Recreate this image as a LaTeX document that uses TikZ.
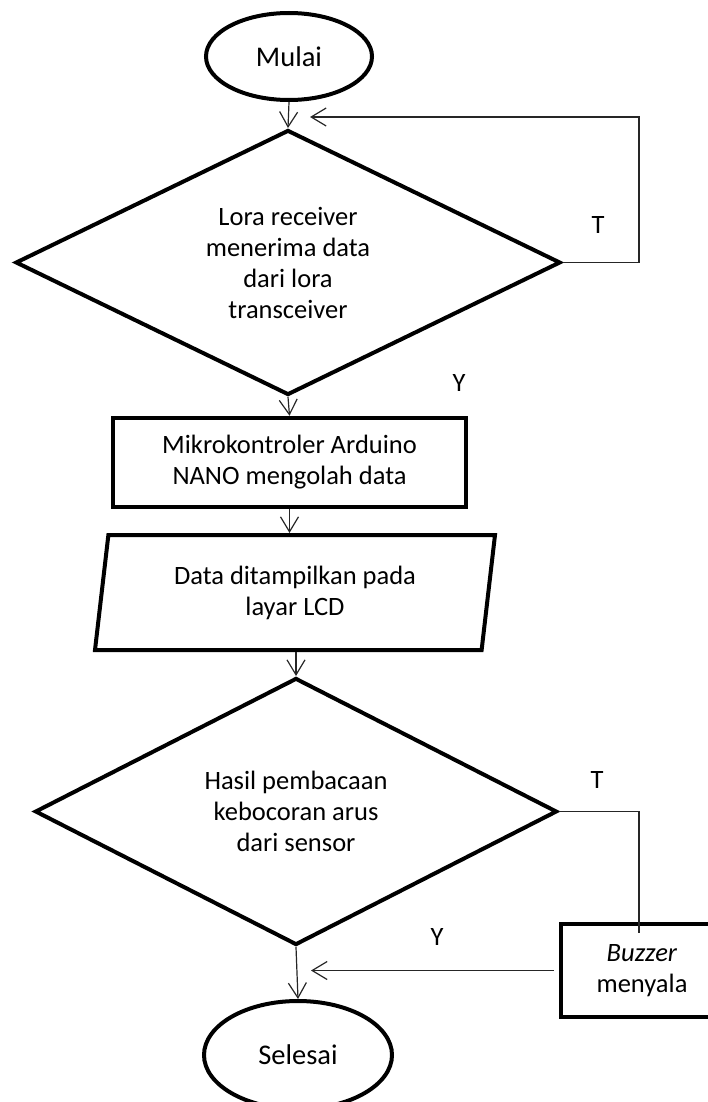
\documentclass[tikz,border=0pt]{standalone}
\usepackage{fontspec}
\setmainfont{Carlito}
\usetikzlibrary{shapes.geometric,arrows.meta}
\begin{document}
\begin{tikzpicture}[x=1pt,y=-1pt,
  every node/.style={font=\fontsize{26.5}{31}\selectfont},
  term/.style={draw,ellipse,line width=4pt,inner sep=0pt,font=\fontsize{28.5}{31}\selectfont},
  decis/.style={draw,diamond,aspect=2,line width=4pt,inner sep=0pt,align=center},
  procbox/.style={draw,rectangle,line width=4.5pt,inner sep=0pt,align=center},
  iobox/.style={draw,trapezium,trapezium left angle=76,trapezium right angle=104,trapezium stretches body,line width=4pt,inner sep=0pt,align=center},
  conn/.style={line width=1.2pt,black!85},
  arr/.style={conn,-{Straight Barb[length=15pt,width=18pt,line width=1.2pt]}},
  lbl/.style={inner sep=0pt}]
\useasboundingbox (0,0) rectangle (707,1102);
\node[term,minimum width=166,minimum height=87] (mulai) at (289,56.5) {Mulai};
\node[decis,minimum width=545,minimum height=265] (d1) at (288,262.5) {Lora receiver\\menerima data\\dari lora\\transceiver};
\node[procbox,minimum width=353,minimum height=89] (proc) at (289.5,462.5) {Mikrokontroler Arduino\\NANO mengolah data};
\node[iobox,minimum width=400,minimum height=115] (lcd) at (295,592.5) {Data ditampilkan pada\\layar LCD};
\node[decis,minimum width=522,minimum height=267] (d2) at (296,811.5) {Hasil pembacaan\\kebocoran arus\\dari sensor};
\node[procbox,minimum width=162,minimum height=93] (buzz) at (642,970.5) {\textit{Buzzer}\\menyala};
\node[term,minimum width=188,minimum height=108] (end) at (298,1055) {Selesai};
\coordinate (loopR) at (639,117);
\coordinate (loopEnd) at (310,117);
\coordinate (tdown) at (639,933);
\coordinate (yend) at (311,0);
\node[lbl] (t1) at (598,225) {T};
\node[lbl] (y1) at (459,383) {Y};
\node[lbl] (t2) at (597,780) {T};
\node[lbl] (y2) at (437,937) {Y};
\draw[arr] (mulai.south) -- (d1.north);
\draw[arr] (d1.east) -| (loopR) -- (loopEnd);
\draw[arr] (d1.south) -- (proc.north);
\draw[arr] (proc.south) -- (proc.south |- lcd.north);
\draw[arr] (lcd.south -| d2.north) -- (d2.north);
\draw[conn] (d2.east) -| (tdown);
\draw[arr,shorten <=5pt] (buzz.west) -- (buzz.west -| yend);
\draw[arr] (d2.south) -- (end.north);
\end{tikzpicture}
\end{document}
